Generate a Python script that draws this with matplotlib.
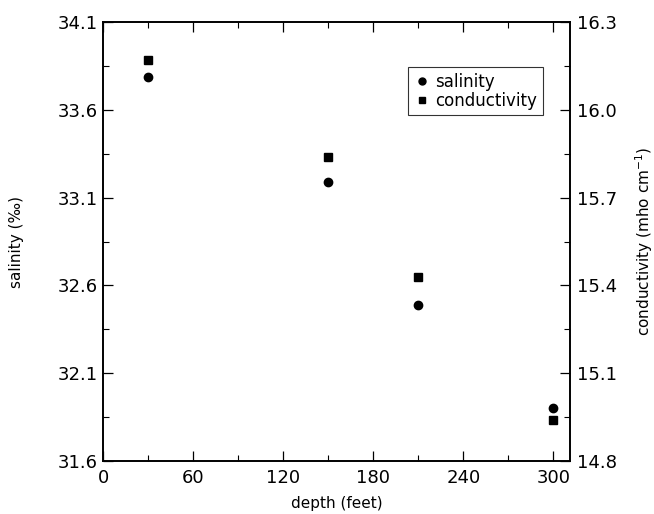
import matplotlib
matplotlib.use('Agg')
import matplotlib.pyplot as plt
from matplotlib.ticker import FixedLocator, FormatStrFormatter
from matplotlib.lines import Line2D

# data
depth        = [30, 150, 210, 300]
salinity     = [33.79, 33.19, 32.49, 31.90]
conductivity = [16.17, 15.84, 15.43, 14.94]

x_ticks   = [0, 60, 120, 180, 240, 300]
sal_ticks = [31.6, 32.1, 32.6, 33.1, 33.6, 34.1]
con_ticks = [14.8, 15.1, 15.4, 15.7, 16.0, 16.3]


def midpoints(t):
    return [(a + b) / 2 for a, b in zip(t, t[1:])]


plt.rcParams['font.family'] = ['DejaVu Sans']

fig = plt.figure(figsize=(6.54, 5.14), dpi=100)
ax = fig.add_axes([0.1575, 0.103, 0.714, 0.854])
ax2 = ax.twinx()

ax.plot(depth, salinity, 'o', color='black', ms=6)
ax2.plot(depth, conductivity, 's', color='black', ms=6)

ax.set_xlim(0, 311)
ax.set_ylim(sal_ticks[0], sal_ticks[-1])
ax2.set_ylim(con_ticks[0], con_ticks[-1])

ax.set_xticks(x_ticks)
ax.set_yticks(sal_ticks)
ax2.set_yticks(con_ticks)
ax.xaxis.set_minor_locator(FixedLocator(midpoints(x_ticks)))
ax.yaxis.set_minor_locator(FixedLocator(midpoints(sal_ticks)))
ax2.yaxis.set_minor_locator(FixedLocator(midpoints(con_ticks)))
ax.yaxis.set_major_formatter(FormatStrFormatter('%.1f'))
ax2.yaxis.set_major_formatter(FormatStrFormatter('%.1f'))

ax.tick_params(axis='x', which='both', direction='in', top=True, labelsize=13, pad=6)
ax.tick_params(axis='y', which='both', direction='in', labelsize=13, pad=4)
ax2.tick_params(which='both', direction='in', labelsize=13, pad=5)
for a in (ax, ax2):
    a.tick_params(which='major', length=7, width=0.9)
    a.tick_params(which='minor', length=4, width=0.8)
    for s in a.spines.values():
        s.set_linewidth(1.2)

ax.set_xlabel('depth (feet)', fontsize=11, labelpad=6)
ax.set_ylabel('salinity (‰)', fontsize=11, labelpad=24)
ax2.set_ylabel('conductivity (mho cm$^{-1}$)', fontsize=11, labelpad=12)

handles = [Line2D([], [], marker='o', ls='', color='black', ms=5, label='salinity'),
           Line2D([], [], marker='s', ls='', color='black', ms=5, label='conductivity')]
leg = ax2.legend(handles=handles, loc='upper left', bbox_to_anchor=(0.653, 0.898),
                 fontsize=12, frameon=True, fancybox=False, handletextpad=0.3,
                 handlelength=1.0, borderpad=0.35, labelspacing=0.05, borderaxespad=0)
leg.get_frame().set_edgecolor('black')
leg.get_frame().set_linewidth(0.8)

plt.savefig('out.png', dpi=100)
